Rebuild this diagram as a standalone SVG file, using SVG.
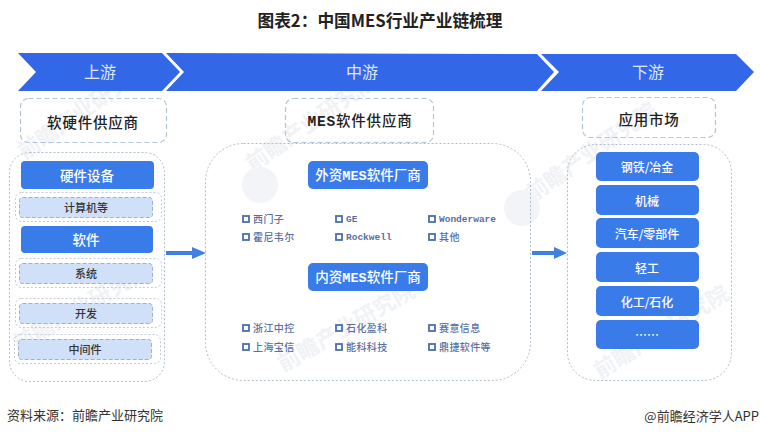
<svg xmlns="http://www.w3.org/2000/svg" width="760" height="436" viewBox="0 0 760 436">
<style>
text{font-family:"Noto Sans CJK SC","Liberation Sans",sans-serif;text-anchor:middle;dominant-baseline:central}
.chev{fill:#3267e8}
.band{fill:#fff;font-size:16px;opacity:.85}
.head{fill:none;stroke:#b4c3da;stroke-width:1.2;stroke-dasharray:5 3}
.ht{fill:#222;font-size:14.5px;font-weight:500;letter-spacing:.8px}
.abs{dominant-baseline:auto}
.big{fill:none;stroke:#b0bccd;stroke-width:1;stroke-dasharray:2 2}
.blue{fill:#3a7bea}
.bt{fill:#fff;font-size:13.5px;font-weight:500}
.bs{font-size:12px}
.outer{fill:none;stroke:#c0cad8;stroke-width:1;stroke-dasharray:2 2}
.inner{fill:#d0e0f8;stroke:#9db0cc;stroke-width:1;stroke-dasharray:4 2}
.it{fill:#333;font-size:11px;font-weight:500}
.sq{fill:none;stroke:#4a6fb0;stroke-width:1.8}
.li{fill:#5a6f9e;font-size:10px;font-weight:500;text-anchor:start;letter-spacing:.4px}
.mono{font-family:"Liberation Mono",monospace;font-size:9.5px;letter-spacing:0;font-weight:700}
.conn{stroke:#3f80e0;stroke-width:4;fill:none}
.ah{fill:#3f80e0}
.wm{fill:#f0f2f6;font-size:22px;font-weight:700}
</style>
<g id="watermarks">
<text class="wm" transform="translate(82 108) rotate(-35)">前瞻产业研究院</text>
<text class="wm" transform="translate(310 120) rotate(-35)">前瞻产业研究院</text>
<text class="wm" transform="translate(345 325) rotate(-30)">前瞻产业研究院</text>
<text class="wm" transform="translate(80 305) rotate(-30)">前瞻产业研究院</text>
<text class="wm" transform="translate(590 150) rotate(-35)">前瞻产业研究院</text>
<text class="wm" transform="translate(660 330) rotate(-32)">前瞻产业研究院</text>
<circle cx="260" cy="185" r="18" fill="#f2f4f7"/>
<circle cx="522" cy="208" r="18" fill="#f2f4f7"/>
</g>
<text x="380" y="20" style="font-size:16.700px;font-weight:700;fill:#222">图表2：中国MES行业产业链梳理</text>
<g id="band-up"><polygon class="chev" points="18,53 162,53 180,72 162,91 18,91 36,72"/><text class="band" x="100" y="71">上游</text></g>
<g id="band-mid"><polygon class="chev" points="166,53 537,54 554,72 537,91 166,91 184,72"/><text class="band" x="362" y="71">中游</text></g>
<g id="band-down"><polygon class="chev" points="541,54 736,54 754,72 736,91 541,91 559,72"/><text class="band" x="648" y="71">下游</text></g>

<g id="head-up"><rect class="head" x="20.500" y="98.500" width="146" height="44" rx="8"/><text class="ht" x="93" y="121">软硬件供应商</text></g>
<g id="head-mid"><rect class="head" x="285.500" y="98.500" width="148" height="44" rx="8"/><text class="ht abs" x="360" y="126"><tspan font-family="Liberation Mono" font-weight="700">MES</tspan>软件供应商</text></g>
<g id="head-down"><rect class="head" x="582.500" y="97.500" width="133" height="40" rx="8"/><text class="ht" x="649" y="118">应用市场</text></g>

<g id="panel-up">
<rect class="big" x="9.500" y="152.500" width="155" height="229" rx="20"/>
<g id="hw"><rect class="blue" x="21" y="161" width="133" height="28" rx="4"/><text class="bt" x="87" y="175">硬件设备</text></g>
<g id="computers"><rect class="outer" x="15.500" y="192.500" width="146" height="29" rx="6"/><rect class="inner" x="19.500" y="197.500" width="133" height="20" rx="3"/><text class="it" x="86" y="206.500">计算机等</text></g>
<g id="sw"><rect class="blue" x="21" y="226" width="132" height="27" rx="4"/><text class="bt" x="86" y="239">软件</text></g>
<g id="system"><rect class="outer" x="15.500" y="258.500" width="146" height="29" rx="6"/><rect class="inner" x="19.500" y="263.500" width="133" height="20" rx="3"/><text class="it" x="86" y="272.500">系统</text></g>
<g id="dev"><rect class="outer" x="15.500" y="298.500" width="146" height="29" rx="6"/><rect class="inner" x="19.500" y="303.500" width="133" height="20" rx="3"/><text class="it" x="86" y="312.500">开发</text></g>
<g id="middleware"><rect class="outer" x="14.500" y="334.500" width="146" height="29" rx="6"/><rect class="inner" x="18.500" y="339.500" width="133" height="20" rx="3"/><text class="it" x="85" y="348.500">中间件</text></g>
</g>

<g id="panel-mid">
<rect class="big" x="205.500" y="143.500" width="325" height="237" rx="38"/>
<g id="foreign"><rect class="blue" x="308" y="161" width="120" height="28" rx="5"/><text class="bt abs" x="368" y="180">外资<tspan font-family="Liberation Mono" font-weight="700">MES</tspan>软件厂商</text></g>
<g id="domestic"><rect class="blue" x="308" y="263" width="120" height="28" rx="5"/><text class="bt abs" x="368" y="282">内资<tspan font-family="Liberation Mono" font-weight="700">MES</tspan>软件厂商</text></g>
<g id="list">
<rect class="sq" x="243" y="216" width="6" height="6"/><text class="li" x="253" y="218.500">西门子</text>
<rect class="sq" x="336" y="216" width="6" height="6"/><text class="li mono" x="346" y="219">GE</text>
<rect class="sq" x="429" y="216" width="6" height="6"/><text class="li mono" x="439" y="219">Wonderware</text>
<rect class="sq" x="243" y="234" width="6" height="6"/><text class="li" x="253" y="236.500">霍尼韦尔</text>
<rect class="sq" x="336" y="234" width="6" height="6"/><text class="li mono" x="346" y="237">Rockwell</text>
<rect class="sq" x="429" y="234" width="6" height="6"/><text class="li" x="439" y="236.500">其他</text>
<rect class="sq" x="243" y="325" width="6" height="6"/><text class="li" x="253" y="327.500">浙江中控</text>
<rect class="sq" x="336" y="325" width="6" height="6"/><text class="li" x="346" y="327.500">石化盈科</text>
<rect class="sq" x="429" y="325" width="6" height="6"/><text class="li" x="439" y="327.500">赛意信息</text>
<rect class="sq" x="243" y="344" width="6" height="6"/><text class="li" x="253" y="346.500">上海宝信</text>
<rect class="sq" x="336" y="344" width="6" height="6"/><text class="li" x="346" y="346.500">能科科技</text>
<rect class="sq" x="429" y="344" width="6" height="6"/><text class="li" x="439" y="346.500">鼎捷软件等</text>
</g>
</g>

<g id="panel-down">
<rect class="big" x="567.500" y="144.500" width="164" height="236" rx="28"/>
<g id="m1"><rect class="blue" x="596" y="152" width="103" height="29" rx="5"/><text class="bt bs" x="647" y="166">钢铁/冶金</text></g>
<g id="m2"><rect class="blue" x="596" y="185" width="103" height="30" rx="5"/><text class="bt bs" x="647" y="200">机械</text></g>
<g id="m3"><rect class="blue" x="596" y="218" width="103" height="30" rx="5"/><text class="bt bs" x="647" y="233">汽车/零部件</text></g>
<g id="m4"><rect class="blue" x="596" y="252" width="103" height="30" rx="5"/><text class="bt bs" x="647" y="267">轻工</text></g>
<g id="m5"><rect class="blue" x="596" y="286" width="103" height="30" rx="5"/><text class="bt bs" x="647" y="301">化工/石化</text></g>
<g id="m6"><rect class="blue" x="596" y="320" width="103" height="29" rx="5"/><text class="bt bs" x="647" y="334">……</text></g>
</g>

<g id="connectors">
<path class="conn" d="M166 253H194"/><polygon class="ah" points="192,247 206,253 192,259"/>
<path class="conn" d="M532 253H556"/><polygon class="ah" points="554,247 567,253 554,259"/>
</g>
<text x="7" y="414" style="text-anchor:start;font-size:13px;fill:#333">资料来源：前瞻产业研究院</text>
<text x="759" y="415" style="text-anchor:end;font-size:13px;fill:#333">@前瞻经济学人APP</text>
</svg>
